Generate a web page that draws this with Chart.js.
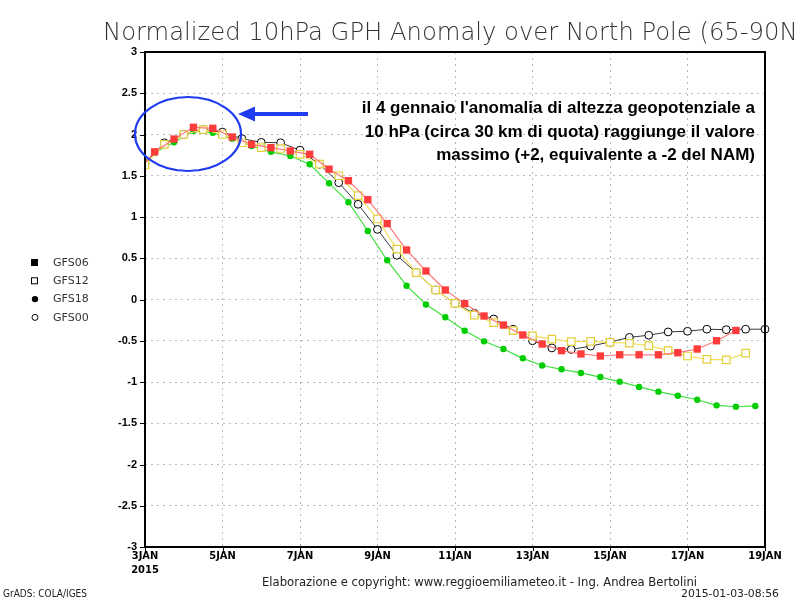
<!DOCTYPE html>
<html>
<head>
<meta charset="utf-8">
<script src="https://cdn.jsdelivr.net/npm/chart.js@4.4.1/dist/chart.umd.min.js"></script>
<style>
  html, body { margin: 0; padding: 0; background: #fff; }
  #wrap { width: 800px; height: 600px; }
</style>
</head>
<body>
<div id="wrap"><canvas id="gph"></canvas></div>
<script>
// asse x: giorni dal 3 gennaio 2015 00z, passo 12 ore
const dayLabels = ['3JAN', '5JAN', '7JAN', '9JAN', '11JAN', '13JAN', '15JAN', '17JAN', '19JAN'];
const step = 0.5;

// GFS06 (quadrati rossi) - primo punto fuori dal grafico, serve solo per la linea
const start06 = -0.25;
const gfs06 = [1.52, 1.79, 1.945, 2.087, 2.075, 1.97, 1.88, 1.84, 1.80, 1.76, 1.58, 1.44, 1.21, 0.92,
  0.60, 0.345, 0.115, -0.05, -0.20, -0.31, -0.43, -0.54, -0.62, -0.66, -0.685, -0.67, -0.67, -0.67,
  -0.645, -0.60, -0.50, -0.375];

// GFS12 (quadrati gialli vuoti)
const start12 = 0;
const gfs12 = [1.63, 1.88, 2.0, 2.06, 2.0, 1.90, 1.84, 1.83, 1.76, 1.64, 1.50, 1.26, 0.976, 0.61,
  0.325, 0.115, -0.047, -0.19, -0.28, -0.378, -0.44, -0.48, -0.51, -0.507, -0.52, -0.53, -0.56,
  -0.62, -0.685, -0.725, -0.733, -0.65];

// GFS18 (pallini verdi)
const start18 = -0.25;
const gfs18 = [1.52, 1.78, 1.905, 2.046, 2.02, 1.95, 1.86, 1.79, 1.74, 1.64, 1.41, 1.18, 0.83, 0.475,
  0.167, -0.06, -0.216, -0.378, -0.507, -0.60, -0.713, -0.80, -0.846, -0.89, -0.94, -0.996, -1.06,
  -1.117, -1.166, -1.215, -1.283, -1.30, -1.29];

// GFS00 (cerchi neri vuoti)
const start00 = 0;
const gfs00 = [1.65, 1.9, 2.0, 2.06, 2.03, 1.95, 1.905, 1.90, 1.81, 1.64, 1.416, 1.154, 0.85, 0.536,
  0.325, 0.115, -0.047, -0.167, -0.236, -0.36, -0.50, -0.587, -0.605, -0.565, -0.515, -0.459, -0.433,
  -0.393, -0.385, -0.36, -0.366, -0.36, -0.36];

const toPoints = (start, vals) => vals.map((v, i) => ({ x: start + i * step, y: v }));

const titleText = 'Normalized 10hPa GPH Anomaly over North Pole (65-90N)';
const noteLines = [
  "il 4 gennaio l'anomalia di altezza geopotenziale a",
  '10 hPa (circa 30 km di quota) raggiunge il valore',
  'massimo (+2, equivalente a -2 del NAM)'
];
const legendItems = ['GFS06', 'GFS12', 'GFS18', 'GFS00'];

// testo compresso in larghezza per imitare il font GrADS
function fitText(ctx, text, x, y, width, align) {
  const w = ctx.measureText(text).width;
  const k = width / w;
  ctx.save();
  ctx.translate(x, y);
  ctx.scale(k, 1);
  ctx.textAlign = align;
  ctx.fillText(text, 0, 0);
  ctx.restore();
}

const decor = {
  id: 'decor',
  beforeDraw(chart) {
    const ctx = chart.ctx;
    ctx.save();
    ctx.fillStyle = '#fff';
    ctx.fillRect(0, 0, chart.width, chart.height);
    ctx.restore();
  },
  afterDraw(chart) {
    const ctx = chart.ctx;
    const a = chart.chartArea;
    const xs = chart.scales.x, ys = chart.scales.y;
    ctx.save();

    // cornice
    ctx.strokeStyle = '#000';
    ctx.lineWidth = 2;
    ctx.strokeRect(a.left, a.top, a.right - a.left, a.bottom - a.top);

    // tacche
    ctx.lineWidth = 1;
    ys.ticks.forEach(t => {
      const py = Math.round(ys.getPixelForValue(t.value)) + 0.5;
      ctx.beginPath(); ctx.moveTo(a.left - 5, py); ctx.lineTo(a.left, py); ctx.stroke();
    });
    xs.ticks.forEach(t => {
      const px = Math.round(xs.getPixelForValue(t.value)) + 0.5;
      ctx.beginPath(); ctx.moveTo(px, a.bottom); ctx.lineTo(px, a.bottom + 4); ctx.stroke();
    });

    // titolo
    ctx.fillStyle = '#333';
    ctx.textBaseline = 'alphabetic';
    ctx.font = '200 25px "DejaVu Sans"';
    fitText(ctx, titleText, 103, 40, 704, 'left');

    // legenda
    ctx.font = '11px "DejaVu Sans"';
    ctx.textBaseline = 'middle';
    legendItems.forEach((name, i) => {
      const y = 262 + i * 18.3;
      ctx.fillStyle = '#000';
      ctx.strokeStyle = '#000';
      ctx.lineWidth = 1;
      if (i === 0) ctx.fillRect(31, y - 3, 7, 7);
      if (i === 1) ctx.strokeRect(31.5, y - 2.5, 6, 6);
      if (i === 2) { ctx.beginPath(); ctx.arc(35, y + 0.5, 3.2, 0, Math.PI * 2); ctx.fill(); }
      if (i === 3) { ctx.beginPath(); ctx.arc(35, y + 0.5, 3, 0, Math.PI * 2); ctx.stroke(); }
      ctx.fillStyle = '#333';
      ctx.textAlign = 'left';
      ctx.fillText(name, 53, y + 1);
    });

    // cerchio blu e freccia
    ctx.strokeStyle = '#1f3cf0';
    ctx.lineWidth = 2.2;
    ctx.beginPath();
    ctx.ellipse(188, 134, 53, 37, 0, 0, Math.PI * 2);
    ctx.stroke();
    ctx.fillStyle = '#1f3cf0';
    ctx.fillRect(252, 112, 56, 4);
    ctx.beginPath();
    ctx.moveTo(238, 114);
    ctx.lineTo(255, 106.5);
    ctx.lineTo(255, 121.5);
    ctx.closePath();
    ctx.fill();

    // nota
    ctx.fillStyle = '#000';
    ctx.font = 'bold 17px "Liberation Sans"';
    ctx.textBaseline = 'alphabetic';
    ctx.textAlign = 'right';
    noteLines.forEach((line, i) => ctx.fillText(line, 755, 113 + i * 23.5));

    // crediti
    ctx.fillStyle = '#222';
    ctx.font = '12px "DejaVu Sans"';
    fitText(ctx, 'Elaborazione e copyright: www.reggioemiliameteo.it - Ing. Andrea Bertolini', 262, 586, 435, 'left');
    ctx.font = '10px "DejaVu Sans"';
    fitText(ctx, '2015-01-03-08:56', 779, 597, 98, 'right');
    fitText(ctx, 'GrADS: COLA/IGES', 3, 597, 84, 'left');

    ctx.restore();
  }
};

new Chart(document.getElementById('gph'), {
  type: 'line',
  data: {
    datasets: [
      {
        label: 'GFS06',
        data: toPoints(start06, gfs06),
        borderColor: '#ff7a7a',
        borderWidth: 1.2,
        pointStyle: 'rect',
        pointRadius: 5.2,
        pointBackgroundColor: '#ff3c3c',
        pointBorderColor: '#ff3c3c',
        pointBorderWidth: 0
      },
      {
        label: 'GFS12',
        data: toPoints(start12, gfs12),
        borderColor: '#f2de55',
        borderWidth: 1.2,
        pointStyle: 'rect',
        pointRadius: 5.3,
        pointBackgroundColor: 'rgba(255,255,255,0.9)',
        pointBorderColor: '#e3cf3a',
        pointBorderWidth: 1.2
      },
      {
        label: 'GFS00',
        data: toPoints(start00, gfs00),
        borderColor: '#3a3a3a',
        borderWidth: 1,
        pointStyle: 'circle',
        pointRadius: 3.9,
        pointBackgroundColor: 'rgba(255,255,255,0.9)',
        pointBorderColor: '#000',
        pointBorderWidth: 1
      },
      {
        label: 'GFS18',
        data: toPoints(start18, gfs18),
        borderColor: '#3fe03f',
        borderWidth: 1.2,
        pointStyle: 'circle',
        pointRadius: 3.2,
        pointBackgroundColor: '#00cc00',
        pointBorderColor: '#00cc00',
        pointBorderWidth: 0
      }
    ]
  },
  options: {
    responsive: true,
    maintainAspectRatio: false,
    animation: false,
    clip: { left: 0, top: 8, right: 8, bottom: 8 },
    layout: { padding: { left: 0, top: 52, right: 35, bottom: 0 } },
    plugins: {
      legend: { display: false },
      tooltip: { enabled: false }
    },
    scales: {
      x: {
        type: 'linear',
        min: 0,
        max: 16,
        afterFit: s => { s.height = 53; },
        afterBuildTicks: s => { s.ticks = dayLabels.map((_, i) => ({ value: i * 2 })); },
        grid: { color: '#b8b8b8', lineWidth: 1, drawTicks: false },
        border: { display: false, dash: [2, 4] },
        ticks: {
          maxRotation: 0,
          padding: 3,
          color: '#000',
          font: { family: '"Liberation Sans Narrow", "DejaVu Sans Condensed", sans-serif', size: 11, weight: 'bold' },
          callback: v => (v === 0 ? [dayLabels[0], '2015'] : dayLabels[v / 2])
        }
      },
      y: {
        min: -3,
        max: 3,
        afterFit: s => { s.width = 145; },
        grid: { color: '#b8b8b8', lineWidth: 1, drawTicks: false },
        border: { display: false, dash: [2, 4] },
        ticks: {
          stepSize: 0.5,
          padding: 8,
          color: '#000',
          font: { family: '"Liberation Sans", sans-serif', size: 11, weight: 'bold' },
          callback: v => String(v)
        }
      }
    }
  },
  plugins: [decor]
});
</script>
</body>
</html>
